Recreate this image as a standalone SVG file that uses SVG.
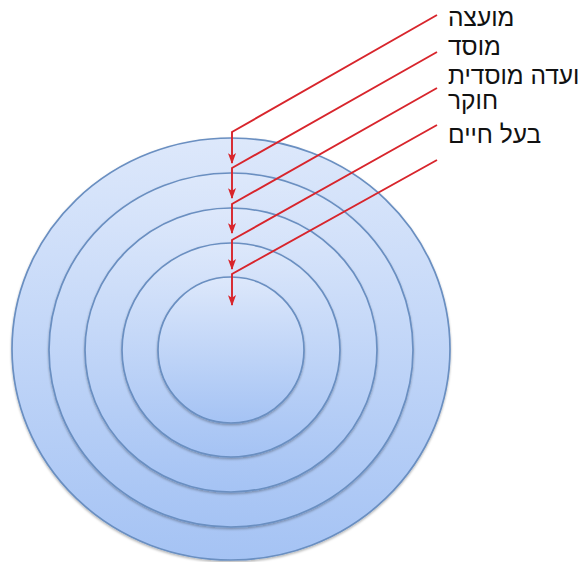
<svg xmlns="http://www.w3.org/2000/svg" width="581" height="562" viewBox="0 0 581 562">
  <defs>
    <linearGradient id="ringFill" x1="0" y1="0" x2="0" y2="1">
      <stop offset="0" stop-color="#dde8fb"/>
      <stop offset="1" stop-color="#a5c3f4"/>
    </linearGradient>
    <filter id="shadow" x="-10%" y="-10%" width="120%" height="120%">
      <feDropShadow dx="0" dy="1.5" stdDeviation="1.2" flood-color="#000" flood-opacity="0.3"/>
    </filter>
    <marker id="arrow" viewBox="0 0 10 10" refX="9" refY="5" markerWidth="11" markerHeight="9" orient="auto" markerUnits="userSpaceOnUse" preserveAspectRatio="none">
      <path d="M0,0.5 L10,5 L0,9.5 L2.5,5 Z" fill="#d8252c"/>
    </marker>
    <style>
      .ring { fill: url(#ringFill); stroke: #6a8fc1; stroke-width: 1.7; filter: url(#shadow); }
      .conn { fill: none; stroke: #d8252c; stroke-width: 1.9; }
      .lbl { font-family: "Liberation Sans", "DejaVu Sans", sans-serif; font-size: 24.5px; fill: #111; }
    </style>
  </defs>

  <g id="ring1"><ellipse class="ring" cx="231" cy="349" rx="219" ry="211"/></g>
  <g id="ring2"><ellipse class="ring" cx="231" cy="350" rx="182" ry="177"/></g>
  <g id="ring3"><ellipse class="ring" cx="231" cy="350" rx="146" ry="142"/></g>
  <g id="ring4"><ellipse class="ring" cx="231" cy="350" rx="109" ry="107"/></g>
  <g id="ring5"><ellipse class="ring" cx="231" cy="350" rx="73" ry="73"/></g>

  <g id="connectors">
    <path class="conn" d="M437,15 L232,132 L232,163" marker-end="url(#arrow)"/>
    <path class="conn" d="M437,52 L232,168 L232,198" marker-end="url(#arrow)"/>
    <path class="conn" d="M437,88 L232,204 L232,233" marker-end="url(#arrow)"/>
    <path class="conn" d="M437,125 L232,240 L232,269" marker-end="url(#arrow)"/>
    <path class="conn" d="M437,160 L232,274 L232,305" marker-end="url(#arrow)"/>
  </g>

  <g id="label1"><text class="lbl" x="448" y="26">מועצה</text></g>
  <g id="label2"><text class="lbl" x="448" y="55">מוסד</text></g>
  <g id="label3"><text class="lbl" x="448" y="84">ועדה מוסדית</text></g>
  <g id="label4"><text class="lbl" x="448" y="109">חוקר</text></g>
  <g id="label5"><text class="lbl" x="448" y="143">בעל חיים</text></g>
</svg>
